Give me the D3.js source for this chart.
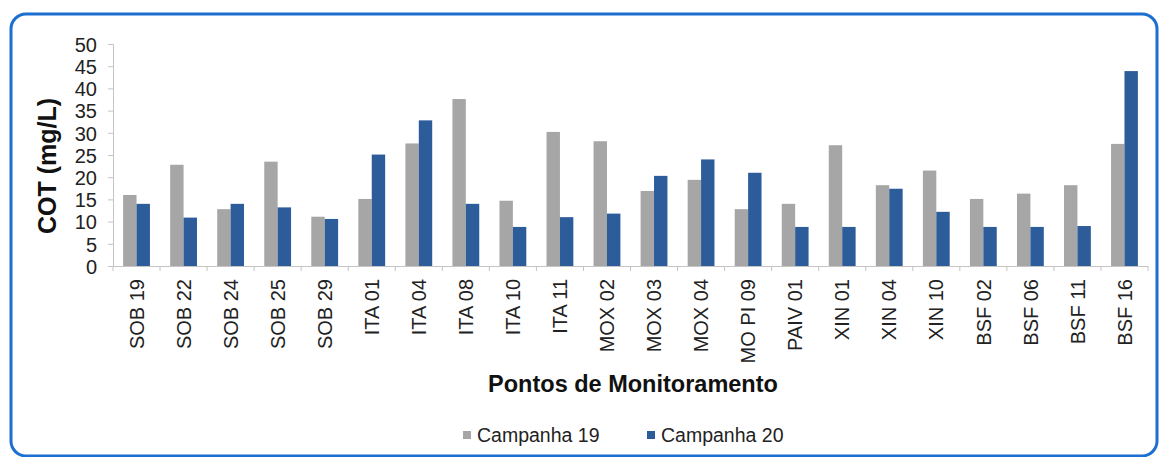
<!DOCTYPE html>
<html><head><meta charset="utf-8">
<script src="https://cdn.jsdelivr.net/npm/d3@7/dist/d3.min.js"></script>
<style>body{margin:0;background:#fff;}svg{display:block;font-family:"Liberation Sans",Arial,sans-serif;}</style>
</head><body>
<svg id="c" width="1160" height="457"></svg>
<script>
const categories = ["SOB 19","SOB 22","SOB 24","SOB 25","SOB 29","ITA 01","ITA 04","ITA 08","ITA 10","ITA 11","MOX 02","MOX 03","MOX 04","MO PI 09","PAIV 01","XIN 01","XIN 04","XIN 10","BSF 02","BSF 06","BSF 11","BSF 16"];
const campanha19 = [16.0,22.8,12.8,23.5,11.1,15.1,27.6,37.6,14.7,30.2,28.1,16.9,19.4,12.8,14.0,27.2,18.2,21.5,15.1,16.3,18.2,27.5];
const campanha20 = [14.0,10.9,14.0,13.2,10.6,25.1,32.8,14.0,8.8,11.0,11.8,20.3,24.0,21.0,8.8,8.8,17.4,12.2,8.8,8.8,9.0,43.9];
const seriesNames = ["Campanha 19","Campanha 20"];
const yTicks = [0,5,10,15,20,25,30,35,40,45,50];
const colors = ["#a6a6a6","#2d5c9b"];

(function(){
const svg = d3.select("#c");
svg.append("rect").attr("x",11).attr("y",14).attr("width",1146).attr("height",442)
  .attr("rx",15).attr("fill","#fff").attr("stroke","#1c6fd1").attr("stroke-width",3);

const pL=113, pR=1148, pT=44, pB=266;
const x = d3.scaleBand().domain(categories).range([pL,pR]).paddingInner(0.43).paddingOuter(0.215);
const xs = d3.scaleBand().domain(seriesNames).range([0,x.bandwidth()]);
const y = d3.scaleLinear().domain([0,50]).range([pB,pT]);
const axisCol = "#c4c4c4";

const data = categories.map((c,i)=>({c, v:[campanha19[i],campanha20[i]]}));
const g = svg.append("g");
data.forEach(d=>{
  seriesNames.forEach((s,j)=>{
    g.append("rect").attr("x",x(d.c)+xs(s)).attr("y",y(d.v[j]))
     .attr("width",xs.bandwidth()).attr("height",pB-y(d.v[j])).attr("fill",colors[j]);
  });
});

const ya = svg.append("g").attr("transform",`translate(${pL},0)`)
  .call(d3.axisLeft(y).tickValues(yTicks).tickSize(5).tickPadding(11));
ya.select(".domain").attr("stroke",axisCol);
ya.selectAll(".tick line").attr("stroke",axisCol);
ya.selectAll("text").attr("font-size",20).attr("fill","#222").attr("dy","0.36em")
  .attr("font-family","Liberation Sans, Arial, sans-serif");

const xa = svg.append("g").attr("transform",`translate(0,${pB})`)
  .call(d3.axisBottom(x).tickSize(0).tickPadding(0).tickSizeOuter(0));
xa.select(".domain").attr("stroke",axisCol);
xa.selectAll("text").attr("font-size",20).attr("fill","#222")
  .attr("font-family","Liberation Sans, Arial, sans-serif")
  .attr("text-anchor","end").attr("transform","rotate(-90)")
  .attr("x",-13).attr("y",0).attr("dy","0.36em");
const step = x.step();
const bounds = d3.range(categories.length+1).map(i=>pL+i*step);
svg.append("g").selectAll("line").data(bounds).join("line")
  .attr("x1",d=>d).attr("x2",d=>d).attr("y1",pB).attr("y2",pB+5).attr("stroke",axisCol);

svg.append("text").attr("transform","translate(56,166) rotate(-90)").attr("text-anchor","middle")
  .attr("font-size",25).attr("font-weight","bold").attr("fill","#111").text("COT (mg/L)");
svg.append("text").attr("x",633).attr("y",392).attr("text-anchor","middle")
  .attr("font-size",23.5).attr("font-weight","bold").attr("fill","#111").text("Pontos de Monitoramento");

const legX=[463,647];
seriesNames.forEach((s,j)=>{
  svg.append("rect").attr("x",legX[j]).attr("y",431).attr("width",8).attr("height",8).attr("fill",colors[j]);
  svg.append("text").attr("x",legX[j]+14).attr("y",442).attr("font-size",19.5).attr("fill","#222").text(s);
});
})();
</script>
</body></html>
